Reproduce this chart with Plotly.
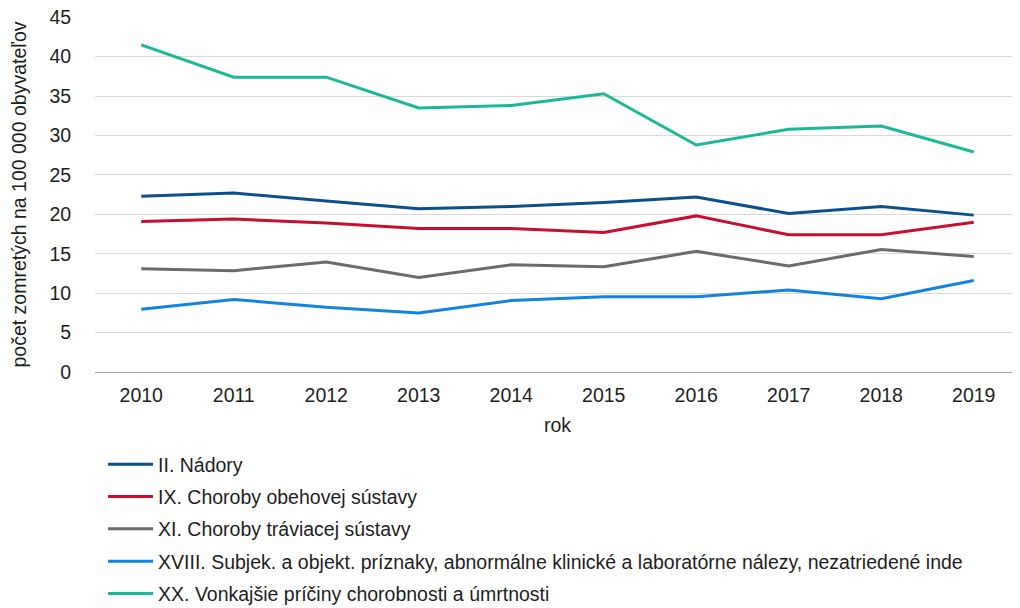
import plotly.graph_objects as go

years = ["2010", "2011", "2012", "2013", "2014", "2015", "2016", "2017", "2018", "2019"]
nadory = [22.3, 22.7, 21.7, 20.7, 21.0, 21.5, 22.2, 20.1, 21.0, 19.9]
obehova = [19.1, 19.4, 18.9, 18.2, 18.2, 17.7, 19.8, 17.4, 17.4, 19.0]
traviaca = [13.1, 12.85, 13.95, 12.0, 13.6, 13.35, 15.3, 13.45, 15.55, 14.65]
priznaky = [7.97, 9.2, 8.2, 7.47, 9.07, 9.53, 9.53, 10.4, 9.3, 11.6]
vonkajsie = [41.5, 37.4, 37.4, 33.5, 33.8, 35.3, 28.8, 30.8, 31.2, 27.9]

series = [
    ("II. Nádory", nadory, "#0b4f8c"),
    ("IX. Choroby obehovej sústavy", obehova, "#c8102e"),
    ("XI. Choroby tráviacej sústavy", traviaca, "#6b6b6b"),
    ("XVIII. Subjek. a objekt. príznaky, abnormálne klinické a laboratórne nálezy, nezatriedené inde", priznaky, "#1184e2"),
    ("XX. Vonkajšie príčiny chorobnosti a úmrtnosti", vonkajsie, "#1bb995"),
]

FS = 19.5

fig = go.Figure()
for i, (name, vals, col) in enumerate(series):
    fig.add_trace(go.Scatter(x=years, y=vals, name=name, mode="lines",
                             line=dict(color=col, width=3), legendgroup=f"g{i}"))

# page body has an 8px default margin, so the figure is sized to fit the window
fig.update_layout(
    width=1012, height=600,
    margin=dict(l=87, r=0, t=9, b=236, autoexpand=False),
    paper_bgcolor="white", plot_bgcolor="white",
    font=dict(family="Liberation Sans, Arial, sans-serif", size=FS, color="#1e1e1e"),
    xaxis=dict(type="category", range=[-0.5, 9.5], showgrid=False, showline=True,
               linecolor="#a6a6a6", linewidth=1, automargin=False,
               ticks="outside", ticklen=6, tickcolor="rgba(255,255,255,0)",
               tickfont=dict(size=FS), title=dict(text="rok", font=dict(size=FS), standoff=12)),
    yaxis=dict(range=[0, 45.03], tickmode="array", tickvals=[0, 5, 10, 15, 20, 25, 30, 35, 40, 45],
               showgrid=True, gridcolor="#d9d9d9", gridwidth=1, ticklabeloverflow="allow",
               zeroline=False, showline=False, automargin=False,
               ticks="outside", ticklen=19, tickcolor="rgba(255,255,255,0)", tickfont=dict(size=FS),
               title=dict(text="počet zomretých na 100 000 obyvateľov", font=dict(size=FS), standoff=19)),
    legend=dict(x=0.0087, y=0.2717, xref="paper", yref="container", xanchor="left", yanchor="top",
                orientation="v", font=dict(size=FS), tracegroupgap=4, itemwidth=45,
                bgcolor="rgba(0,0,0,0)"),
    showlegend=True,
)

fig.write_html("out.html")
